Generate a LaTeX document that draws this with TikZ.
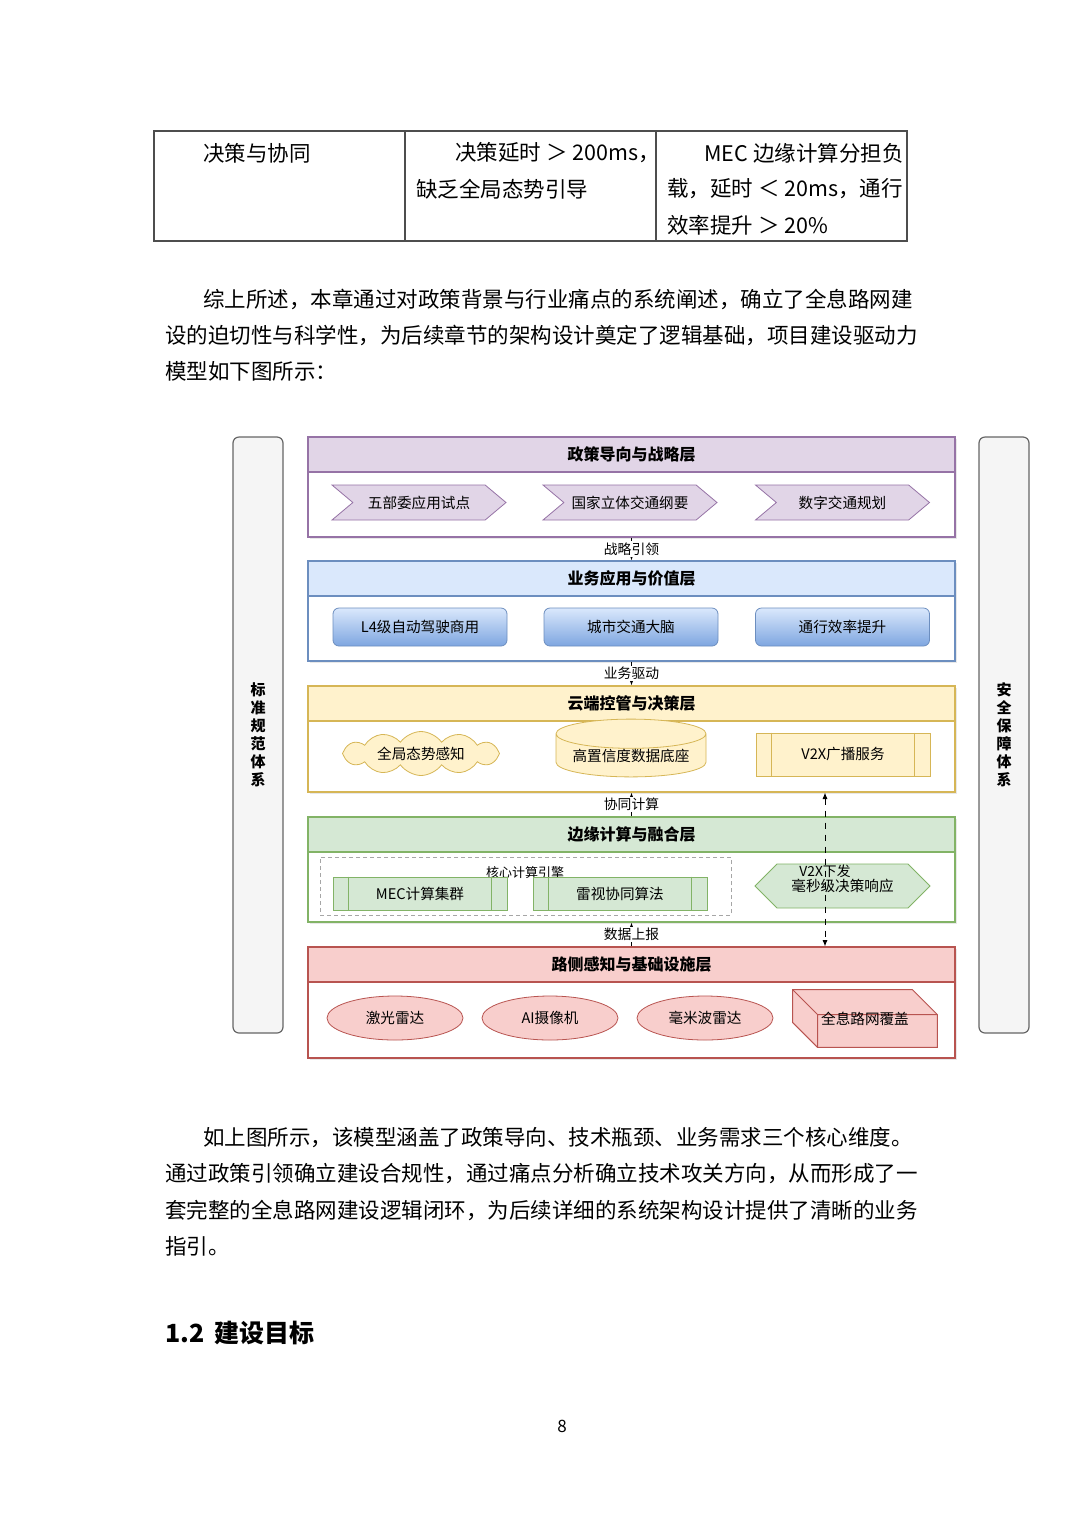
\documentclass[tikz,border=0pt]{standalone}
\usepackage{fontspec}
\setmainfont{Noto Sans CJK SC}
\usetikzlibrary{arrows.meta,shapes.symbols,shapes.geometric,shadows}

\definecolor{purpfill}{HTML}{E1D5E7}
\definecolor{purpline}{HTML}{9673A6}
\definecolor{bluefill}{HTML}{DAE8FC}
\definecolor{bluedeep}{HTML}{7EA6E0}
\definecolor{blueline}{HTML}{6C8EBF}
\definecolor{yellfill}{HTML}{FFF2CC}
\definecolor{yellline}{HTML}{D6B656}
\definecolor{grnfill}{HTML}{D5E8D4}
\definecolor{grnline}{HTML}{82B366}
\definecolor{redfill}{HTML}{F8CECC}
\definecolor{redline}{HTML}{B85450}
\definecolor{barfill}{HTML}{F5F5F5}
\definecolor{barline}{HTML}{666666}
\definecolor{tabline}{HTML}{4D4D4D}

\begin{document}
\begin{tikzpicture}[x=0.5pt, y=-0.5pt,
    every node/.style={inner sep=0pt},
    bodytext/.style={anchor=west, font=\fontsize{10.75}{13}\selectfont},
    layerbox/.style={draw=#1, fill=white, line width=0.6pt, minimum width=323.5pt,
        drop shadow={opacity=0.18, shadow xshift=1.2pt, shadow yshift=-1.2pt}},
    layerhead/.style 2 args={draw=#1, fill=#2, line width=0.6pt, minimum width=323.5pt,
        minimum height=17.5pt, font=\fontsize{8}{9}\selectfont\bfseries},
    sidebar/.style={draw=barline, fill=barfill, rounded corners=3pt, line width=0.6pt,
        minimum width=25pt, minimum height=298pt, align=center,
        font=\fontsize{7.5}{9}\selectfont\bfseries},
    itemfont/.style={font=\fontsize{7.3}{8.5}\selectfont},
    linklabel/.style={fill=white, inner sep=0.6pt, font=\fontsize{6.9}{8}\selectfont},
    linkarrow/.style={-{Latex[length=3.2pt,width=2.6pt]}, line width=0.5pt},
    stepsig/.style={signal, signal to=east, signal from=west, signal pointer angle=80,
        draw=purpline, fill=purpfill, minimum width=87pt, minimum height=17.5pt, itemfont},
    appbox/.style={rectangle, rounded corners=3pt, draw=blueline, top color=bluefill,
        bottom color=bluedeep, minimum width=87pt, minimum height=19pt, itemfont},
    procbox/.style 2 args={rectangle, draw=#1, fill=#2, minimum width=87pt, itemfont},
    sensor/.style={ellipse, draw=redline, fill=redfill, minimum width=68pt,
        minimum height=22pt, itemfont}]

    % page
    \useasboundingbox (0,0) rectangle (1080,1528);
    \fill[white] (0,0) rectangle (1080,1528);

    % Table row at the top of the page
    \draw[tabline, line width=0.6pt] (154,131) rectangle (907,241);
    \draw[tabline, line width=0.6pt] (405,131) -- (405,241) (656,131) -- (656,241);
    \node[bodytext] (c1) at (203,153) {决策与协同};
    \node[bodytext] (c2a) at (455,153) {决策延时 ＞ 200ms，};
    \node[bodytext] (c2b) at (416,189) {缺乏全局态势引导};
    \node[bodytext] (c3a) at (704,153) {MEC 边缘计算分担负};
    \node[bodytext] (c3b) at (667,189) {载，延时 ＜ 20ms，通行};
    \node[bodytext] (c3c) at (667,225) {效率提升 ＞ 20\%};

    % Paragraph before the figure
    \node[bodytext] (pa1) at (203,299) {综上所述，本章通过对政策背景与行业痛点的系统阐述，确立了全息路网建};
    \node[bodytext] (pa2) at (165,335) {设的迫切性与科学性，为后续章节的架构设计奠定了逻辑基础，项目建设驱动力};
    \node[bodytext] (pa3) at (165,371) {模型如下图所示：};

    % Side bars
    \node[sidebar] (stdbar) at (258,735) {标\\准\\规\\范\\体\\系};
    \node[sidebar] (secbar) at (1004,735) {安\\全\\保\\障\\体\\系};

    % Layer 1: policy
    \node[layerbox=purpline, minimum height=50pt] (L1) at (631.5,487) {};
    \node[layerhead={purpline}{purpfill}] (L1h) at (631.5,454.5) {政策导向与战略层};
    \foreach \nm/\x/\txt in {pa/419/五部委应用试点, pb/630/国家立体交通纲要, pc/842.5/数字交通规划}
        \node[stepsig] (\nm) at (\x,502.5) {\txt};

    % Layer 2: business
    \node[layerbox=blueline, minimum height=50pt] (L2) at (631.5,611) {};
    \node[layerhead={blueline}{bluefill}] (L2h) at (631.5,578.5) {业务应用与价值层};
    \foreach \nm/\x/\txt in {ba/420/L4级自动驾驶商用, bb/631/城市交通大脑, bc/842.5/通行效率提升}
        \node[appbox] (\nm) at (\x,627) {\txt};

    % Layer 3: cloud control
    \node[layerbox=yellline, minimum height=53pt] (L3) at (631.5,739) {};
    \node[layerhead={yellline}{yellfill}] (L3h) at (631.5,703.5) {云端控管与决策层};
    \node[cloud, cloud puffs=12, cloud puff arc=110, cloud ignores aspect, draw=yellline, fill=yellfill,
        minimum width=78.5pt, minimum height=22pt, itemfont] (sense) at (421,753.5) {全局态势感知};
    \node[cylinder, shape border rotate=90, aspect=0.25, draw=yellline, fill=yellfill,
        minimum width=75pt, minimum height=22.5pt, itemfont] (base) at (631,755.5) {高置信度数据底座};
    \node[procbox={yellline}{yellfill}, minimum height=21.5pt] (v2x) at (843,754.5) {V2X广播服务};

    % Layer 4: edge computing
    \node[layerbox=grnline, minimum height=52.5pt] (L4) at (631.5,869.5) {};
    \node[layerhead={grnline}{grnfill}] (L4h) at (631.5,834.5) {边缘计算与融合层};
    \node[draw=gray!70, dash pattern=on 2pt off 1.5pt, line width=0.5pt,
        minimum width=205.5pt, minimum height=29pt] (core) at (525.5,886) {};
    \node[font=\fontsize{6.5}{7}\selectfont] (corelbl) at (525,873) {核心计算引擎};
    \node[procbox={grnline}{grnfill}, minimum height=16.5pt] (mec) at (420,893.5) {MEC计算集群};
    \node[procbox={grnline}{grnfill}, minimum height=16.5pt] (fusion) at (620,893.5) {雷视协同算法};
    \node[signal, signal to=east and west, draw=grnline, fill=grnfill,
        minimum width=87.5pt, minimum height=22pt, itemfont] (resp) at (842.5,886) {毫秒级决策响应};

    % inner bars of the process boxes
    \foreach \b/\c in {v2x/yellline, mec/grnline, fusion/grnline}
        \draw[\c, line width=0.5pt] ([xshift=8pt]\b.north west) -- ([xshift=8pt]\b.south west)
            ([xshift=-8pt]\b.north east) -- ([xshift=-8pt]\b.south east);

    % Layer 5: roadside
    \node[layerbox=redline, minimum height=55.5pt] (L5) at (631.5,1002.5) {};
    \node[layerhead={redline}{redfill}] (L5h) at (631.5,964.5) {路侧感知与基础设施层};
    \foreach \nm/\x/\txt in {lidar/395/激光雷达, cam/550/AI摄像机, mmw/705/毫米波雷达}
        \node[sensor] (\nm) at (\x,1018) {\txt};
    \node[minimum width=72pt, minimum height=28.5pt] (cover) at (865,1018.5) {};
    \filldraw[draw=redline, fill=redfill, line width=0.5pt]
        (cover.north west) -- ([xshift=-12.5pt]cover.north east) -- ([yshift=-12.5pt]cover.north east)
        -- (cover.south east) -- ([xshift=12.5pt]cover.south west) -- ([yshift=12.5pt]cover.south west) -- cycle;
    \draw[redline, line width=0.5pt] (cover.north west) -- ([xshift=12.5pt,yshift=-12.5pt]cover.north west)
        -- ([yshift=-12.5pt]cover.north east)
        ([xshift=12.5pt,yshift=-12.5pt]cover.north west) -- ([xshift=12.5pt]cover.south west);
    \node[itemfont] (coverlbl) at (cover.center) {全息路网覆盖};

    % links between layers
    \draw[linkarrow] (L1.south) -- node[linklabel] {战略引领} (L2.north);
    \draw[linkarrow] (L2.south) -- node[linklabel] {业务驱动} (L3.north);
    \draw[linkarrow] (L4.north) -- node[linklabel] {协同计算} (L3.south);
    \draw[linkarrow] (L5.north) -- node[linklabel] {数据上报} (L4.south);
    \draw[{Latex[length=3.2pt,width=2.6pt]}-{Latex[length=3.2pt,width=2.6pt]}, dashed, line width=0.5pt]
        ([xshift=96.75pt]L3.south) -- node[pos=0.51, font=\fontsize{6.9}{8}\selectfont] {V2X下发}
        ([xshift=96.75pt]L5.north);

    % Paragraph after the figure
    \node[bodytext] (pb1) at (203,1138) {如上图所示，该模型涵盖了政策导向、技术瓶颈、业务需求三个核心维度。};
    \node[bodytext] (pb2) at (165,1174) {通过政策引领确立建设合规性，通过痛点分析确立技术攻关方向，从而形成了一};
    \node[bodytext] (pb3) at (165,1210) {套完整的全息路网建设逻辑闭环，为后续详细的系统架构设计提供了清晰的业务};
    \node[bodytext] (pb4) at (165,1246) {指引。};

    % Section heading and page number
    \node[anchor=west, font=\fontsize{12.5}{14}\selectfont\bfseries] (sec) at (165,1333) {1.2\hspace{5pt}建设目标};
    \node[font=\fontsize{8.5}{10}\selectfont] (pageno) at (562,1426) {8};
\end{tikzpicture}
\end{document}
